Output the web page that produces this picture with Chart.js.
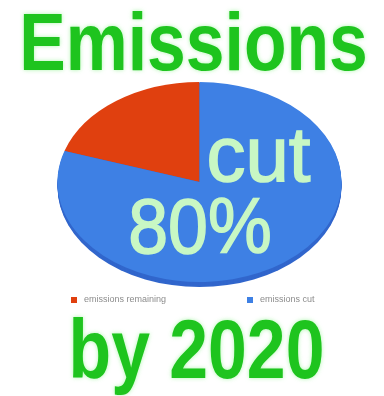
<!DOCTYPE html>
<html>
<head>
<meta charset="utf-8">
<title>Emissions cut 80% by 2020</title>
<script src="https://cdn.jsdelivr.net/npm/chart.js@4.4.1/dist/chart.umd.min.js"></script>
<style>
  html, body { margin: 0; padding: 0; background: #fff; }
  canvas { display: block; }
</style>
</head>
<body>
<canvas id="emissions-chart" width="384" height="396"></canvas>
<script>
const sliceLabels = ["emissions remaining", "emissions cut"]
const sliceValues = [20, 80]
const sliceColors = ["#e0400f", "#3e80e4"]
const headline = "Emissions"
const footline = "by 2020"
const cutWord = "cut"

const GREEN = "#1ec41e"
const MINT = "#c8f7c4"
const RIM = "#3166cc"
const FONT = '"Liberation Sans", Arial, sans-serif'

function drawWord(ctx, text, x, y, opts) {
    ctx.save()
    ctx.translate(x, y)
    ctx.scale(opts.squeeze || 1, 1)
    ctx.font = `${opts.weight || "normal"} ${opts.size}px ${FONT}`
    ctx.textAlign = "center"
    ctx.textBaseline = "alphabetic"
    ctx.fillStyle = opts.color
    if (opts.glow) {
        ctx.shadowColor = opts.glow
        ctx.shadowBlur = 4
    }
    ctx.fillText(text, 0, 0)
    if (opts.thicken) {
        ctx.shadowBlur = 0
        ctx.lineWidth = opts.thicken
        ctx.strokeStyle = opts.color
        ctx.strokeText(text, 0, 0)
    }
    ctx.restore()
}

// stretches the round pie into a wide ellipse with a thin darker rim underneath
function ellipsePiePlugin(stretch, depth) {
    return {
        id: "ellipsePie",
        beforeDatasetsDraw: (chart) => {
            const { ctx } = chart
            const arc = chart.getDatasetMeta(0).data[0]

            ctx.save()
            ctx.translate(arc.x, arc.y)
            ctx.scale(stretch, 1)
            ctx.translate(-arc.x, -arc.y)

            ctx.fillStyle = RIM
            for (let d = depth; d > 0; d--) {
                ctx.beginPath()
                ctx.arc(arc.x, arc.y + d, arc.outerRadius, 0, Math.PI * 2)
                ctx.fill()
            }
        },
        afterDatasetsDraw: (chart) => {
            chart.ctx.restore()
        }
    }
}

// headline, footline, the "cut 80%" overlay and a wide two-item legend
function posterTextPlugin() {
    return {
        id: "posterText",
        afterDraw: (chart) => {
            const { ctx } = chart
            const arc = chart.getDatasetMeta(0).data[0]
            const cut = sliceValues[1]

            drawWord(ctx, headline, 193.5, 70, { size: 82, weight: "bold", color: GREEN, squeeze: 0.85, glow: "rgba(120,240,120,0.6)" })
            drawWord(ctx, footline, 196.5, 378, { size: 83, weight: "bold", color: GREEN, squeeze: 0.84, glow: "rgba(120,240,120,0.6)" })

            drawWord(ctx, cutWord, arc.x + 59, arc.y - 1, { size: 78, color: MINT, squeeze: 1, thicken: 1.5 })
            drawWord(ctx, `${cut}%`, arc.x + 0.5, arc.y + 71, { size: 78, color: MINT, squeeze: 0.92, thicken: 1.5 })

            // legend row
            const legendX = [71, 247]
            const legendY = 300
            ctx.save()
            ctx.font = `9px ${FONT}`
            ctx.textBaseline = "middle"
            ctx.textAlign = "left"
            sliceLabels.forEach((label, i) => {
                ctx.fillStyle = sliceColors[i]
                ctx.fillRect(legendX[i], legendY - 3, 6, 6)
                ctx.fillStyle = "#8c8c8c"
                ctx.fillText(label, legendX[i] + 13, legendY)
            })
            ctx.restore()
        }
    }
}

const canvas = document.getElementById("emissions-chart")

new Chart(canvas.getContext("2d"), {
    type: "pie",
    data: {
        labels: sliceLabels,
        datasets: [{
            data: sliceValues,
            backgroundColor: sliceColors,
            borderWidth: 0,
            clip: false
        }]
    },
    options: {
        responsive: false,
        animation: false,
        events: [],
        rotation: -72,
        layout: {
            padding: { top: 82, bottom: 114, left: 15, right: 0 }
        },
        plugins: {
            legend: { display: false },
            tooltip: { enabled: false }
        }
    },
    plugins: [ellipsePiePlugin(1.42, 5), posterTextPlugin()]
})
</script>
</body>
</html>
